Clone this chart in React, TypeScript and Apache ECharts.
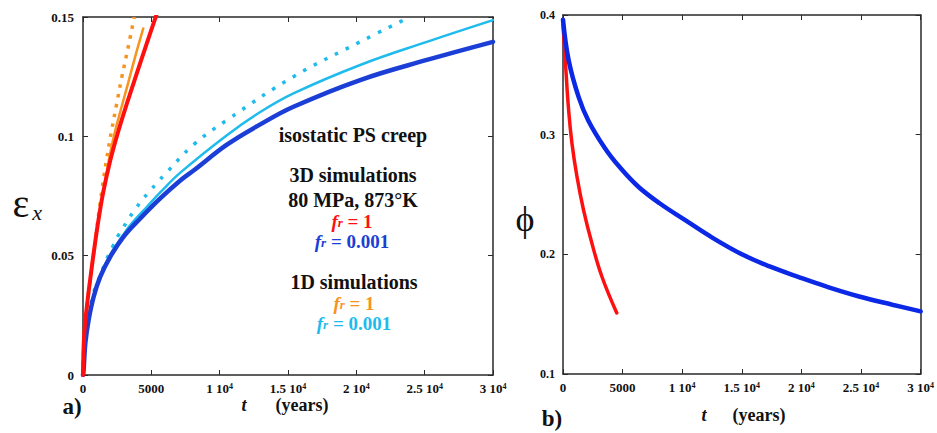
import React, { useEffect, useRef } from "react";
import * as echarts from "echarts";

const FONT = "Liberation Serif, DejaVu Serif, serif";

// ---- Panel a) : strain eps_x vs time (years) ----
const red3D_t = [0, 95, 340, 585, 880, 1170, 1485, 1975, 2540, 3250, 3960, 4680, 5380];
const red3D_e = [0, 0.0175, 0.0314, 0.0426, 0.0552, 0.0663, 0.0767, 0.0894, 0.1013, 0.1144, 0.1268, 0.1392, 0.151];

const orangeDot_t = [0, 95, 340, 585, 880, 1170, 1410, 1730, 2095, 2460, 2830, 3310, 3750];
const orangeDot_e = [0, 0.0175, 0.0314, 0.0426, 0.0555, 0.0685, 0.0785, 0.0905, 0.1025, 0.1135, 0.1245, 0.1375, 0.15];

const orangeSol_t = [0, 95, 340, 585, 880, 1170, 1485, 1700, 1975, 2320, 2830, 3310, 3800, 4410];
const orangeSol_e = [0, 0.0175, 0.0314, 0.0426, 0.0552, 0.0663, 0.0767, 0.0838, 0.0925, 0.1015, 0.1125, 0.1225, 0.133, 0.1452];

const blue3D_t = [0, 45, 170, 410, 780, 1265, 2000, 2975, 4190, 5650, 7120, 8215, 10530, 12970, 15400, 20280, 25160, 30000];
const blue3D_e = [0, 0.0021, 0.0133, 0.023, 0.0328, 0.0412, 0.0496, 0.058, 0.0656, 0.074, 0.0815, 0.0862, 0.0965, 0.105, 0.1124, 0.1236, 0.132, 0.1396];

const cyanSol_t = [0, 45, 170, 410, 780, 1265, 2000, 2975, 3460, 4680, 5650, 7120, 10530, 12970, 15400, 20280, 25160, 30000];
const cyanSol_e = [0, 0.0021, 0.0133, 0.023, 0.0328, 0.0415, 0.0505, 0.059, 0.0628, 0.0705, 0.0765, 0.0848, 0.1005, 0.1102, 0.118, 0.1299, 0.1396, 0.1487];

const cyanDot_t = [0, 45, 170, 410, 780, 1070, 1315, 1560, 1875, 2190, 2530, 2925, 3340, 3830, 4310, 4850, 5460, 6090, 8090, 10530, 15400, 20280, 23450];
const cyanDot_e = [0, 0.0021, 0.0133, 0.024, 0.0345, 0.039, 0.0426, 0.0461, 0.0503, 0.054, 0.058, 0.0615, 0.0656, 0.0694, 0.0733, 0.0768, 0.0808, 0.0847, 0.0965, 0.1068, 0.125, 0.1396, 0.1487];

// ---- Panel b) : porosity phi vs time (years) ----
const phiRed_t = [0, 190, 470, 750, 1170, 1720, 2420, 3260, 4510];
const phiRed_v = [0.392, 0.3624, 0.3207, 0.2929, 0.265, 0.2372, 0.2094, 0.1815, 0.151];

const phiBlue_t = [0, 470, 1300, 2140, 3535, 4788, 6320, 8131, 10220, 12585, 15093, 17323, 19830, 22060, 24843, 27630, 30000];
const phiBlue_v = [0.396, 0.3624, 0.3318, 0.3115, 0.2885, 0.2725, 0.2565, 0.2425, 0.2288, 0.2136, 0.1996, 0.1899, 0.1808, 0.1732, 0.1648, 0.1579, 0.1523];

const pairs = (t: number[], v: number[]) => t.map((x, i) => [x, v[i]]);

const xFormatter = (v: number) => {
  if (v === 0) return "{n|0}";
  if (v < 10000) return "{n|" + v + "}";
  return "{n|" + v / 10000 + " 10}{s|4}";
};

const labelRich = (size: number) => ({
  n: { fontFamily: FONT, fontWeight: "bold", fontSize: size, color: "#111", lineHeight: 13, verticalAlign: "bottom" },
  s: { fontFamily: FONT, fontWeight: "bold", fontSize: Math.round(size * 0.6), color: "#111", lineHeight: 8, verticalAlign: "top" },
});

const AX_COLOR = "#2a2a2a";

function xAxes(grid: number, labelSize: number) {
  const common = {
    type: "value",
    gridIndex: grid,
    min: 0,
    max: 30000,
    interval: 5000,
    splitLine: { show: false },
    axisLine: { show: true, onZero: false, lineStyle: { color: AX_COLOR, width: 1.5 } },
    axisTick: { show: true, inside: true, length: 5, lineStyle: { color: AX_COLOR, width: 1 } },
  };
  return [
    {
      ...common,
      position: "bottom",
      axisLabel: { margin: 7, formatter: xFormatter, rich: labelRich(labelSize) },
    },
    { ...common, position: "top", axisLabel: { show: false } },
  ];
}

function yAxes(grid: number, min: number, max: number, interval: number, labelSize: number, margin: number) {
  const common = {
    type: "value",
    gridIndex: grid,
    min,
    max,
    interval,
    splitLine: { show: false },
    axisLine: { show: true, onZero: false, lineStyle: { color: AX_COLOR, width: 1.5 } },
    axisTick: { show: true, inside: true, length: 5, lineStyle: { color: AX_COLOR, width: 1 } },
  };
  return [
    {
      ...common,
      position: "left",
      axisLabel: {
        margin,
        fontFamily: FONT,
        fontWeight: "bold",
        fontSize: labelSize,
        color: "#111",
        formatter: (v: number) => String(parseFloat(v.toFixed(2))),
      },
    },
    { ...common, position: "right", axisLabel: { show: false } },
  ];
}

function lineSeries(data: number[][], color: string, width: number, xi: number, yi: number, type: any = "solid") {
  return {
    type: "line",
    data,
    xAxisIndex: xi,
    yAxisIndex: yi,
    showSymbol: false,
    symbol: "none",
    smooth: 0.4,
    lineStyle: { color, width, type, cap: type === "solid" ? "round" : "butt" },
    silent: true,
  };
}

const frText = (x: number, y: number, color: string, value: string) => ({
  type: "text",
  x,
  y,
  style: {
    text: "{f|f}{r|r}{n| = " + value + "}",
    fill: color,
    textAlign: "center",
    textVerticalAlign: "middle",
    rich: {
      f: { fontFamily: FONT, fontStyle: "italic", fontWeight: "bold", fontSize: 19, fill: color, lineHeight: 16, verticalAlign: "middle" },
      r: { fontFamily: FONT, fontStyle: "italic", fontWeight: "bold", fontSize: 13, fill: color, lineHeight: 11, verticalAlign: "bottom" },
      n: { fontFamily: FONT, fontWeight: "bold", fontSize: 19, fill: color, lineHeight: 16, verticalAlign: "middle" },
    },
  },
});

const plainText = (x: number, y: number, text: string, size: number, opts: any = {}) => ({
  type: "text",
  x,
  y,
  style: {
    text,
    fill: opts.color || "#111",
    fontFamily: FONT,
    fontSize: size,
    fontWeight: opts.bold === false ? "normal" : "bold",
    fontStyle: opts.italic ? "italic" : "normal",
    textAlign: opts.align || "center",
    textVerticalAlign: "middle",
  },
});

export default function App() {
  const ref = useRef<HTMLDivElement>(null);
  useEffect(() => {
    document.body.style.margin = "0";
    if (!ref.current) return;
    const chart = echarts.init(ref.current, null, { renderer: "svg" });
    chart.setOption({
      animation: false,
      backgroundColor: "#ffffff",
      grid: [
        { left: 83, top: 17, width: 410, height: 358, containLabel: false },
        { left: 563, top: 15, width: 359, height: 359, containLabel: false },
      ],
      xAxis: [...xAxes(0, 13), ...xAxes(1, 13)],
      yAxis: [...yAxes(0, 0, 0.15, 0.05, 13, 9), ...yAxes(1, 0.1, 0.4, 0.1, 12, 8)],
      series: [
        lineSeries(pairs(orangeDot_t, orangeDot_e), "#f7941d", 3.5, 0, 0, [3.5, 6.5]),
        lineSeries(pairs(orangeSol_t, orangeSol_e), "#f7941d", 2.5, 0, 0),
        lineSeries(pairs(cyanDot_t, cyanDot_e), "#1ebbec", 3.5, 0, 0, [3.5, 8.5]),
        lineSeries(pairs(cyanSol_t, cyanSol_e), "#1ebbec", 2.5, 0, 0),
        lineSeries(pairs(blue3D_t, blue3D_e), "#1b3ed6", 4.5, 0, 0),
        lineSeries(pairs(red3D_t, red3D_e), "#ff1010", 4, 0, 0),
        lineSeries(pairs(phiRed_t, phiRed_v), "#ff1010", 3.5, 2, 2),
        lineSeries(pairs(phiBlue_t, phiBlue_v), "#0a28e6", 4.5, 2, 2),
      ],
      graphic: [
        plainText(353, 135, "isostatic PS creep", 20),
        plainText(353, 175, "3D simulations", 20),
        plainText(353, 200, "80 MPa, 873°K", 20),
        frText(352, 221, "#ff1010", "1"),
        frText(352, 241, "#1b3ed6", "0.001"),
        plainText(354, 282, "1D simulations", 20),
        frText(354, 303, "#f7941d", "1"),
        frText(354, 323, "#1ebbec", "0.001"),
        // axis names
        plainText(21, 203, "ε", 40, { bold: false }),
        plainText(37, 212, "x", 22, { bold: false, italic: true }),
        plainText(525, 219, "ϕ", 36, { bold: false }),
        plainText(244, 405, "t", 18, { italic: true }),
        plainText(302, 405, "(years)", 18),
        plainText(704, 415, "t", 18, { italic: true }),
        plainText(759, 415, "(years)", 18),
        // panel tags
        plainText(72, 406, "a)", 23),
        plainText(552, 418, "b)", 23),
      ],
    });
    return () => chart.dispose();
  }, []);
  return <div ref={ref} style={{ width: 937, height: 433 }} />;
}
